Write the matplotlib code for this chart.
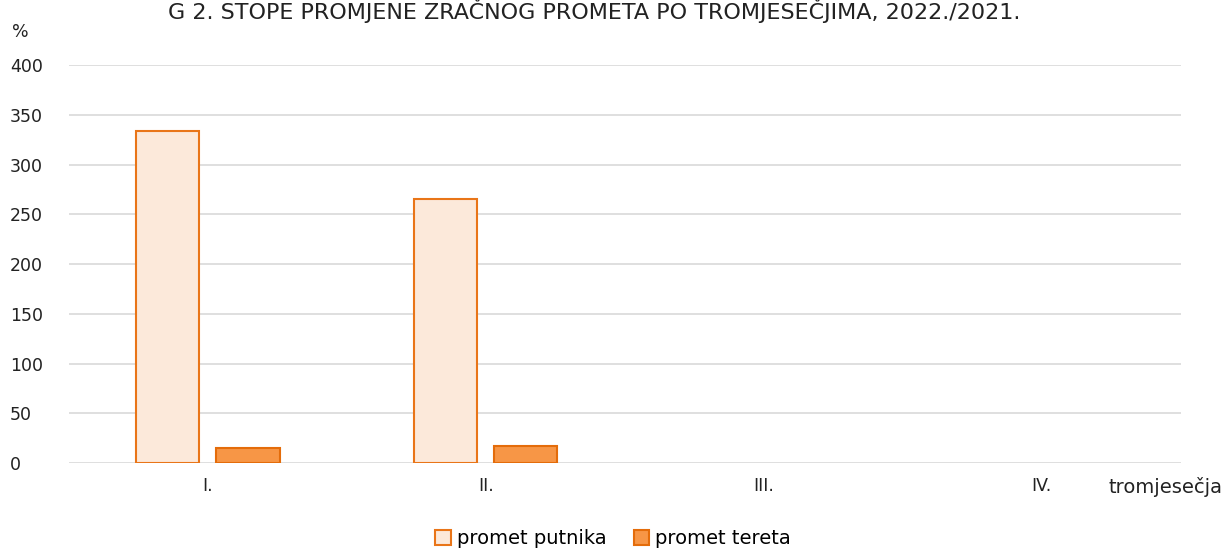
import matplotlib.pyplot as plt
import numpy as np

# %% Data
quarters = ["I.", "II.", "III.", "IV."]
putnika = [334, 265, np.nan, np.nan]
tereta = [15, 17, np.nan, np.nan]
yticks = [0, 50, 100, 150, 200, 250, 300, 350, 400]

plt.rcParams["font.family"] = ["DejaVu Sans"]

# %% Plot
fig = plt.figure(figsize=(12.26, 5.52), dpi=100)
ax = fig.add_axes([0.0563, 0.1612, 0.9067, 0.7208])

x = np.arange(len(quarters))
w = 0.227
ax.bar(x - 0.144, putnika, w, color="#FCE9DA", edgecolor="#E97518",
       linewidth=1.5, label="promet putnika", zorder=3)
ax.bar(x + 0.144, tereta, w, color="#F79646", edgecolor="#E46C0A",
       linewidth=1.5, label="promet tereta", zorder=3)

ax.set_xlim(-0.5, 3.5)
ax.set_ylim(0, 400)
ax.set_yticks(yticks)
ax.set_xticks(x)
ax.set_xticklabels(quarters)
ax.tick_params(axis="both", length=0, labelsize=12.5, colors="#222222")
ax.tick_params(axis="y", pad=42.5)
ax.tick_params(axis="x", pad=10)
for lbl in ax.get_yticklabels():
    lbl.set_horizontalalignment("left")
ax.grid(axis="y", color="#D9D9D9", linewidth=1.2, zorder=0)
for s in ax.spines.values():
    s.set_visible(False)

fig.text(0.485, 0.966, "G 2. STOPE PROMJENE ZRAČNOG PROMETA PO TROMJESEČJIMA, 2022./2021.",
         ha="center", va="baseline", fontsize=16, color="#222222")
fig.text(0.010, 0.942, "%", fontsize=12.5, va="center", color="#222222")
fig.text(0.997, 0.118, "tromjesečja", fontsize=14, ha="right", va="center", color="#222222")

fig.legend(loc="lower center", bbox_to_anchor=(0.5, -0.025), ncol=2, frameon=False,
           fontsize=14, handlelength=0.8, handleheight=0.8, handletextpad=0.3,
           columnspacing=1.4)

fig.savefig("out.png", dpi=100)
